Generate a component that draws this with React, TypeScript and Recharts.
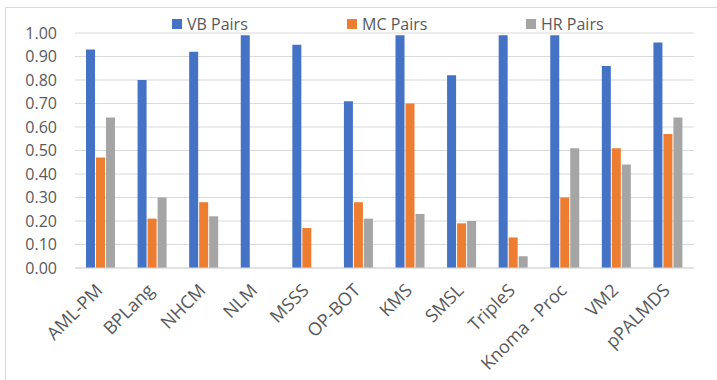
import React from 'react';
import { BarChart, Bar, XAxis, YAxis, CartesianGrid, Legend } from 'recharts';

const categories = [
  'AML-PM', 'BPLang', 'NHCM', 'NLM', 'MSSS', 'OP-BOT',
  'KMS', 'SMSL', 'TripleS', 'Knoma - Proc', 'VM2', 'pPALMDS'
];
const vbPairs = [0.93, 0.80, 0.92, 0.99, 0.95, 0.71, 0.99, 0.82, 0.99, 0.99, 0.86, 0.96];
const mcPairs = [0.47, 0.21, 0.28, 0, 0.17, 0.28, 0.70, 0.19, 0.13, 0.30, 0.51, 0.57];
const hrPairs = [0.64, 0.30, 0.22, 0, 0, 0.21, 0.23, 0.20, 0.05, 0.51, 0.44, 0.64];
const yTicks = [0, 0.1, 0.2, 0.3, 0.4, 0.5, 0.6, 0.7, 0.8, 0.9, 1.0];

const series = [
  { key: 'vb', name: 'VB Pairs', color: '#4472C4' },
  { key: 'mc', name: 'MC Pairs', color: '#ED7D31' },
  { key: 'hr', name: 'HR Pairs', color: '#A5A5A5' }
];

const data = categories.map((name, i) => ({
  name,
  vb: vbPairs[i],
  mc: mcPairs[i],
  hr: hrPairs[i]
}));

const FONT = '"Open Sans", sans-serif';
const TEXT = '#595959';

const legendLeft = [172, 347, 526];

const LegendContent = () => (
  <div style={{ position: 'relative', height: 20, width: 717 }}>
    {series.map((s, i) => (
      <div
        key={s.key}
        style={{
          position: 'absolute',
          left: legendLeft[i],
          top: 0,
          height: 20,
          display: 'flex',
          alignItems: 'center',
          fontFamily: FONT,
          fontSize: 16,
          color: TEXT,
          whiteSpace: 'nowrap'
        }}
      >
        <span style={{ width: 10, height: 10, background: s.color, marginRight: 5, display: 'inline-block' }} />
        {s.name}
      </div>
    ))}
  </div>
);

// labels rotated -45deg, ending just right of the tick
const AngledTick = (props: any) => {
  const { x, y, payload } = props;
  return (
    <g transform={`translate(${x},${y})`}>
      <text
        x={0}
        y={0}
        dx={-9}
        dy={13}
        textAnchor="end"
        transform="rotate(-45)"
        fill={TEXT}
        fontFamily={FONT}
        fontSize={18}
      >
        {payload.value}
      </text>
    </g>
  );
};

export default function App() {
  return (
    <div style={{ position: 'absolute', left: 0, top: 0, width: 717, height: 380, background: '#fff', overflow: 'hidden' }}>
      <div style={{ position: 'absolute', left: 5, top: 7, width: 730, height: 400, border: '1px solid #D9D9D9' }} />
      <BarChart
        width={717}
        height={380}
        data={data}
        margin={{ top: 13, right: 23, bottom: 12, left: 0 }}
        barSize={9}
        barGap={1}
      >
        <CartesianGrid vertical={false} stroke="#D9D9D9" />
        <XAxis
          dataKey="name"
          interval={0}
          height={100}
          tickLine={false}
          axisLine={{ stroke: '#D9D9D9' }}
          tick={<AngledTick />}
        />
        <YAxis
          width={75}
          domain={[0, 1]}
          ticks={yTicks}
          tickFormatter={(v: number) => v.toFixed(2)}
          tickLine={false}
          axisLine={false}
          tickMargin={12}
          tick={{ fill: TEXT, fontFamily: FONT, fontSize: 16 }}
        />
        <Legend
          verticalAlign="top"
          content={<LegendContent />}
          wrapperStyle={{ left: 0, top: 14, width: 717 }}
        />
        {series.map(s => (
          <Bar key={s.key} dataKey={s.key} name={s.name} fill={s.color} isAnimationActive={false} />
        ))}
      </BarChart>
    </div>
  );
}
